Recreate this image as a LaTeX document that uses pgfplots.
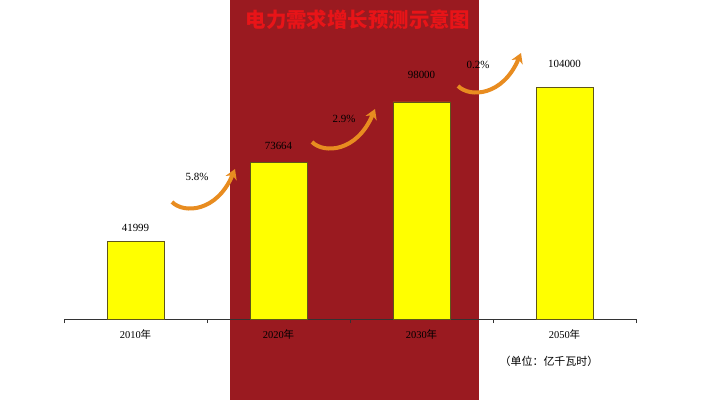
\documentclass[border=0pt]{standalone}
\usepackage{pgfplots}
\usepackage{pgfplotstable}
\pgfplotsset{compat=1.18}
\usepackage{fontspec}
\setmainfont{Liberation Serif}
\newfontfamily\cjk{Noto Sans CJK SC}
\usetikzlibrary{arrows.meta,backgrounds}

\definecolor{bgred}{RGB}{154,26,32}
\definecolor{titlered}{RGB}{232,20,24}
\definecolor{baryellow}{RGB}{255,255,0}
\definecolor{baredge}{RGB}{95,85,25}
\definecolor{arroworange}{RGB}{232,140,32}

% electricity demand, 100 million kWh; lift = extra gap of the value label
\pgfplotstableread{
x  demand  lift
0  41999   6
1  73664   9
2  98000   20
3  104000  16
}\demandtable

% curved growth arrow, tail at #1,#2
\newcommand\growth[2]{%
  \begin{scope}[shift={(#1,#2)}]
    \draw[arroworange, line width=4bp, -{Stealth[length=10bp,width=12bp]}]
      (0,0) .. controls (12,-12) and (45,-10) .. (63,33);
  \end{scope}}

\begin{document}
\begin{tikzpicture}[x=1bp,y=1bp]
\begin{axis}[
    width=572bp, height=299.35bp, scale only axis,
    xmin=-0.5, xmax=3.5, ymin=11000, ymax=131000,
    axis x line*=bottom, axis y line=none,
    x axis line style={black!80, line width=0.6bp},
    xtick={0,1,2,3},
    xticklabels={2010{\cjk 年}, 2020{\cjk 年}, 2030{\cjk 年}, 2050{\cjk 年}},
    minor xtick={-0.5,0.5,1.5,2.5,3.5},
    major tick length=0pt, minor tick length=4bp,
    tick align=inside,
    minor tick style={black!80, line width=0.6bp},
    xticklabel style={font=\fontsize{10.5}{12}\selectfont, yshift=-7bp},
    ybar, bar width=57bp,
    point meta=explicit symbolic,
    visualization depends on={\thisrow{lift} \as \lift},
    nodes near coords,
    nodes near coords style={font=\fontsize{11}{13}\selectfont, anchor=south, yshift=\lift bp},
]
\coordinate (O) at (rel axis cs:0,0);
\addplot[fill=baryellow, draw=baredge, line width=0.8bp]
    table[x=x, y=demand, meta=demand] {\demandtable};
\end{axis}

\pgfresetboundingbox
\begin{scope}[shift={(O)}, xshift=-64bp, yshift=-81bp]
  \useasboundingbox (0,0) rectangle (710,400);
  \begin{scope}[on background layer]
    \fill[white] (0,0) rectangle (710,400);
    \fill[bgred] (230,0) rectangle (479,400);
  \end{scope}
  \node[text=titlered, font=\cjk\bfseries\fontsize{20.5}{24}\selectfont] at (358,380) {电力需求增长预测示意图};

  \growth{172}{198}
  \growth{312}{258}
  \growth{458}{314}
  \node[font=\fontsize{11}{13}\selectfont] at (197,223) {5.8\%};
  \node[font=\fontsize{11}{13}\selectfont] at (344,281) {2.9\%};
  \node[font=\fontsize{11}{13}\selectfont] at (478,335) {0.2\%};

  \node[font=\cjk\fontsize{11}{13}\selectfont] at (549,39) {（单位：亿千瓦时）};
\end{scope}
\end{tikzpicture}
\end{document}
